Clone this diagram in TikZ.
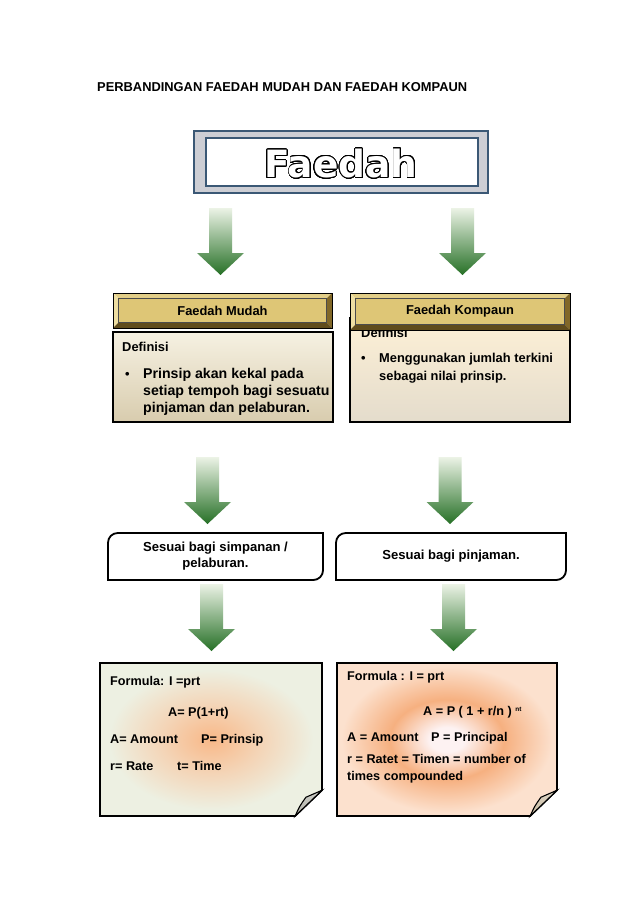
\documentclass[tikz,border=0pt]{standalone}
\usepackage{fontspec}
\setmainfont{Liberation Sans}
\newfontfamily\bigfont{DejaVu Sans}
\usepackage[copies]{contour}
\contourlength{0.75pt}
\contournumber{32}
\usetikzlibrary{calc}
\definecolor{slate}{RGB}{59,88,117}
\definecolor{framegray}{RGB}{205,206,212}
\definecolor{goldface}{RGB}{252,242,190}
\definecolor{goldedge}{RGB}{222,198,118}
\definecolor{bevtop}{RGB}{226,206,136}
\definecolor{bevleft}{RGB}{238,222,162}
\definecolor{bevright}{RGB}{130,104,40}
\definecolor{bevbot}{RGB}{96,76,28}
\definecolor{creamtop}{RGB}{246,241,226}
\definecolor{tanbot}{RGB}{216,204,174}
\definecolor{creamtwo}{RGB}{253,240,214}
\definecolor{tantwo}{RGB}{228,220,204}
\definecolor{arrtop}{RGB}{236,243,230}
\definecolor{arrbot}{RGB}{38,112,38}
\definecolor{notebase}{RGB}{237,240,226}
\definecolor{noteglow}{RGB}{248,184,136}
\definecolor{notemid}{RGB}{244,212,182}
\definecolor{peach}{RGB}{252,225,206}
\definecolor{peachring}{RGB}{246,176,128}
\definecolor{peachcore}{RGB}{253,242,242}
\definecolor{foldgray}{RGB}{175,175,165}
\definecolor{foldtan}{RGB}{200,186,160}
\newcommand\pxu{0.9326pt}
\pgfdeclareradialshading{leftglow}{\pgfpoint{0bp}{0bp}}{color(0bp)=(noteglow); color(11bp)=(notemid); color(23bp)=(notebase); color(50bp)=(notebase)}
\pgfdeclareradialshading{rightglow}{\pgfpoint{0bp}{0bp}}{color(0bp)=(peachcore); color(4bp)=(peachcore); color(13bp)=(peachring); color(24bp)=(peach); color(50bp)=(peach)}
\tikzset{
  frame/.style={draw=slate,line width=2pt,inner sep=0pt},
  hdr/.style={draw=black,line width=0.9pt,inner sep=0pt,outer sep=0pt,
    font=\fontsize{12}{14}\selectfont\bfseries,
    path picture={
      \path (path picture bounding box.south west) coordinate (hsw)
            (path picture bounding box.north east) coordinate (hne)
            (path picture bounding box.north west) coordinate (hnw)
            (path picture bounding box.south east) coordinate (hse);
      \fill[bevtop] (hnw) -- (hne) -- ([shift={(-5pt,-5pt)}]hne) -- ([shift={(5pt,-5pt)}]hnw) -- cycle;
      \fill[bevleft] (hnw) -- (hsw) -- ([shift={(5pt,5pt)}]hsw) -- ([shift={(5pt,-5pt)}]hnw) -- cycle;
      \fill[bevright] (hne) -- (hse) -- ([shift={(-5pt,5pt)}]hse) -- ([shift={(-5pt,-5pt)}]hne) -- cycle;
      \fill[bevbot] (hsw) -- (hse) -- ([shift={(-5pt,5pt)}]hse) -- ([shift={(5pt,5pt)}]hsw) -- cycle;
      \shadedraw[top color=goldedge,middle color=goldface,bottom color=goldedge,draw=black!70,line width=0.4pt]
        ([shift={(5pt,5pt)}]hsw) rectangle ([shift={(-5pt,-5pt)}]hne);
    }},
  defbox/.style={draw=black,line width=1.4pt,inner sep=0pt,outer sep=0pt},
  txt/.style={anchor=base west,inner sep=0pt,font=\fontsize{12}{14}\selectfont\bfseries},
  bigtxt/.style={txt,font=\fontsize{13.2}{15}\selectfont\bfseries},
  ftxt/.style={txt,font=\fontsize{11.8}{14}\selectfont\bfseries},
  tab/.style={minimum height=47*\pxu,inner sep=0pt,outer sep=0pt,align=center,
    font=\fontsize{12.2}{15}\selectfont\bfseries},
  tabline/.style={draw=black,line width=1.7pt},
  notepath/.style={insert path={(#1.north west) -- (#1.north east) -- ([yshift=24pt]#1.south east)
    -- ([xshift=-25pt]#1.south east) -- (#1.south west) -- cycle}},
  note/.style={minimum width=220*\pxu,minimum height=153*\pxu,inner sep=0pt,outer sep=0pt},
  pics/downarrow/.style={code={
    \shade[top color=arrtop,bottom color=arrbot]
      (-11.5,0) -- (11.5,0) -- (11.5,-45) -- (23.5,-45) -- (0,-67) -- (-23.5,-45) -- (-11.5,-45) -- cycle;
  }},
}

\begin{document}
\begin{tikzpicture}[x=\pxu,y=\pxu]
  \fill[white] (0,0) rectangle (638,-903);
  \useasboundingbox (0,0) rectangle (638,-903);

  \node[txt] (heading) at (97,-92) {PERBANDINGAN FAEDAH MUDAH DAN FAEDAH KOMPAUN};

  % title frame
  \node[frame,fill=framegray,minimum width=294*\pxu,minimum height=62*\pxu] (faedahbox) at (341,-162) {};
  \node[frame,fill=white,minimum width=272*\pxu,minimum height=48*\pxu] (faedahin) at (342,-162) {};
  \node[font=\bigfont\bfseries\fontsize{35}{35}\selectfont,inner sep=0pt] (faedah) at (341,-164)
    {\contour{black}{\textcolor{white}{Faedah}}};

  \pic at (220.5,-208) {downarrow};
  \pic at (462.5,-208) {downarrow};

  % definitions
  \node[defbox,top color=creamtop,bottom color=tanbot,minimum width=220*\pxu,minimum height=90*\pxu] (defmudah) at (223,-377) {};
  \node[defbox,top color=creamtwo,bottom color=tantwo,minimum width=220*\pxu,minimum height=104*\pxu] (defkompaun) at (460,-370) {};
  \node[txt] (dm0) at (122,-351) {Definisi};
  \node[txt] (dmb) at (125,-378) {\textbullet};
  \node[bigtxt] (dm1) at (143,-378) {Prinsip akan kekal pada};
  \node[bigtxt] (dm2) at (143,-395) {setiap tempoh bagi sesuatu};
  \node[bigtxt] (dm3) at (143,-412) {pinjaman dan pelaburan.};
  \node[txt] (dk0) at (361,-337) {Definisi};
  \node[txt] (dkb) at (361,-362) {\textbullet};
  \node[txt] (dk1) at (379,-362) {Menggunakan jumlah terkini};
  \node[txt] (dk2) at (379,-380) {sebagai nilai prinsip.};

  \node[hdr,minimum width=219*\pxu,minimum height=35*\pxu] (mudah) at (222.5,-310.5) {Faedah Mudah};
  \node[hdr,minimum width=220*\pxu,minimum height=37*\pxu] (kompaun) at (460,-311.5) {Faedah Kompaun};

  \pic at (207.5,-457) {downarrow};
  \pic at (450,-457) {downarrow};

  % sesuai
  \node[tab,minimum width=215*\pxu] (simpan) at (215.5,-556.5) {Sesuai bagi simpanan /\\pelaburan.};
  \node[tab,minimum width=230*\pxu] (pinjam) at (451,-556.5) {\raisebox{3pt}{Sesuai bagi pinjaman.}};
  \draw[tabline] ([yshift=-9pt]simpan.north west) arc[start angle=180,end angle=90,radius=9pt]
    -- (simpan.north east) -- ([yshift=9pt]simpan.south east) arc[start angle=0,end angle=-90,radius=9pt]
    -- (simpan.south west) -- cycle;
  \draw[tabline] ([yshift=-9pt]pinjam.north west) arc[start angle=180,end angle=90,radius=9pt]
    -- (pinjam.north east) -- ([yshift=9pt]pinjam.south east) arc[start angle=0,end angle=-90,radius=9pt]
    -- (pinjam.south west) -- cycle;

  \pic at (211.5,-584) {downarrow};
  \pic at (453.5,-584) {downarrow};

  % formula notes
  \node[note,minimum width=222*\pxu] (fl) at (211,-739.5) {};
  \node[note] (fr) at (447,-739.5) {};
  \shadedraw[shading=leftglow,line width=1.5pt,notepath=fl];
  \shadedraw[shading=rightglow,line width=1.5pt,notepath=fr];
  \filldraw[top color=foldgray!60,bottom color=foldgray,draw=black,line width=1pt]
    ([xshift=-25pt]fl.south east) .. controls ([shift={(-21pt,9pt)}]fl.south east) .. ([shift={(-15pt,17.5pt)}]fl.south east)
    -- ([yshift=24pt]fl.south east) -- cycle;
  \filldraw[top color=foldtan!60,bottom color=foldtan,draw=black,line width=1pt]
    ([xshift=-25pt]fr.south east) .. controls ([shift={(-21pt,9pt)}]fr.south east) .. ([shift={(-15pt,17.5pt)}]fr.south east)
    -- ([yshift=24pt]fr.south east) -- cycle;

  \node[ftxt] (fl1) at (110,-685) {Formula: I =prt};
  \node[ftxt] (fl2) at (168,-716) {A= P(1+rt)};
  \node[ftxt] (fl3) at (110,-743) {A= Amount};
  \node[ftxt] (fl4) at (201,-743) {P= Prinsip};
  \node[ftxt] (fl5) at (110,-770) {r= Rate};
  \node[ftxt] (fl6) at (177,-770) {t= Time};

  \node[ftxt] (fr1) at (347,-680) {Formula : I = prt};
  \node[ftxt] (fr2) at (423,-715) {A = P ( 1 + r/n ) \raisebox{3pt}{\fontsize{6}{6}\selectfont nt}};
  \node[ftxt] (fr3) at (347,-741) {A = Amount};
  \node[ftxt] (fr4) at (431,-741) {P = Principal};
  \node[ftxt] (fr5) at (347,-763) {r = Ratet = Timen = number of};
  \node[ftxt] (fr6) at (347,-780) {times compounded};
\end{tikzpicture}
\end{document}
